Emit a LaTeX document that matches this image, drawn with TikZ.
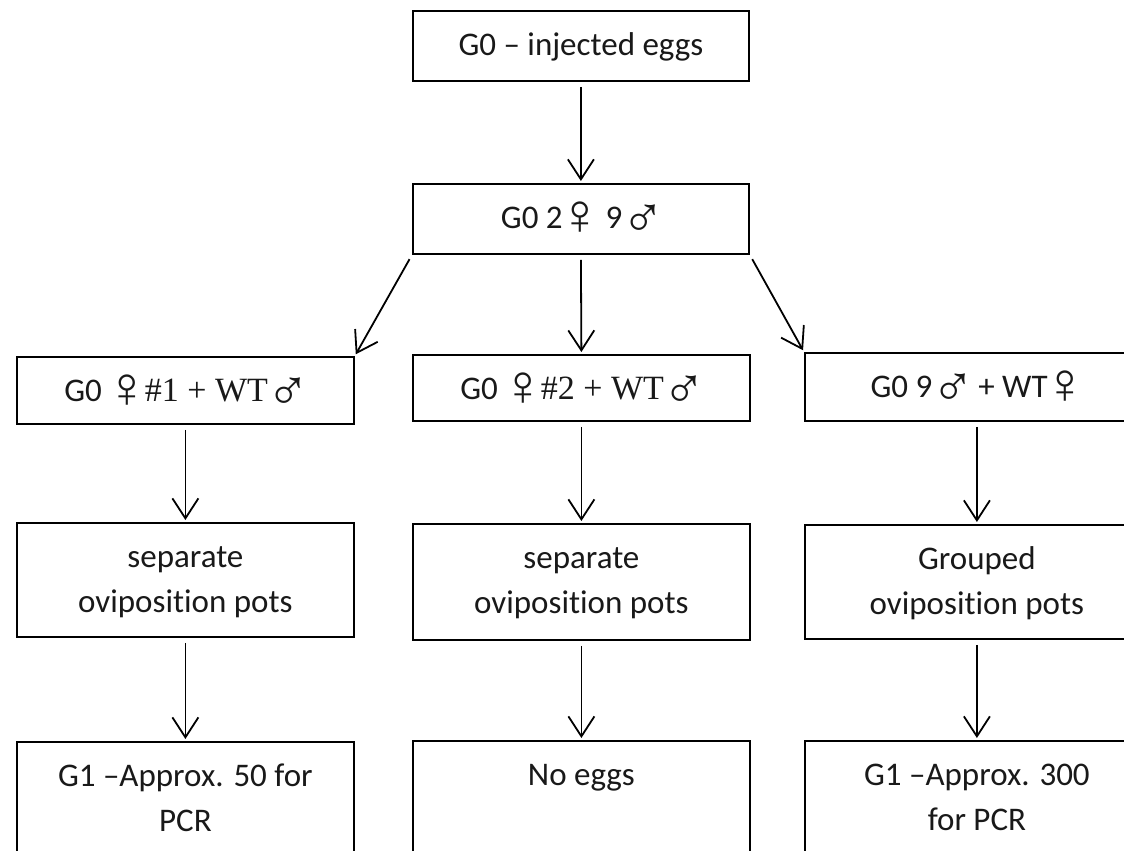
\documentclass[tikz,border=0pt]{standalone}
\usepackage{fontspec}
\setmainfont{Carlito}[Ligatures=NoCommon]
\newfontfamily\symfont{Liberation Sans}
\newfontfamily\rmpart{Liberation Serif}
\usetikzlibrary{arrows.meta}
% female / male signs
\newcommand\fem{\kern-4pt\raisebox{-6pt}{\symfont\fontsize{58}{44}\selectfont ♀}\kern-4pt}
\newcommand\mal{\kern-1pt\raisebox{-9pt}{\symfont\fontsize{58}{44}\selectfont ♂}\kern-4pt}
% serif run inside the cross labels
\newcommand\rmrun[1]{{\rmpart\fontsize{34}{44}\selectfont #1}}
% top-aligned text inside a box of fixed width and height
\newcommand\boxtext[3]{\parbox[t][#2][t]{#1}{\centering\rule{0pt}{45pt}#3}}
\begin{document}
\begin{tikzpicture}[x=1pt,y=-1pt,
  flowbox/.style={draw=black, line width=1.8pt, inner sep=0pt, anchor=north west,
    font=\fontsize{33}{45}\selectfont, text=black!90},
  flowarrow/.style={draw=black, line width=1.8pt,
    -{Straight Barb[length=20pt,width=26pt]}, shorten <=5pt, shorten >=2pt}]
\useasboundingbox (0,0) rectangle (1124,851);
\clip (0,0) rectangle (1124,851);
\fill[white] (0,0) rectangle (1124,851);

% top of the chain
\node[flowbox] (inj) at (412,10) {\boxtext{336pt}{70pt}{G0 – injected eggs}};
\node[flowbox] (adults) at (412,183) {\boxtext{336pt}{70pt}{G0 2\fem{} 9\mal}};

% crosses
\node[flowbox] (crossA) at (16,356) {\boxtext{337pt}{67pt}{G0 \fem\rmrun{\#1 + WT}\mal}};
\node[flowbox] (crossB) at (412,354) {\boxtext{337pt}{66pt}{G0 \fem\rmrun{\#2 + WT}\mal}};
\node[flowbox] (crossC) at (804,352) {\boxtext{344pt}{68pt}{G0 9\mal{} + WT\fem}};

% oviposition
\node[flowbox] (potsA) at (16,522) {\boxtext{337pt}{114pt}{separate\\oviposition pots}};
\node[flowbox] (potsB) at (412,523) {\boxtext{337pt}{116pt}{separate\\oviposition pots}};
\node[flowbox] (potsC) at (804,524) {\boxtext{344pt}{114pt}{Grouped\\oviposition pots}};

% G1 outcome
\node[flowbox] (outA) at (16,741) {\boxtext{337pt}{140pt}{G1 –Approx. 50 for\\PCR}};
\node[flowbox] (outB) at (412,740) {\boxtext{337pt}{140pt}{No eggs}};
\node[flowbox] (outC) at (804,740) {\boxtext{344pt}{140pt}{G1 –Approx. 300\\for PCR}};

% connectors
\draw[flowarrow] (inj.south) -- (adults.north);
\draw[flowarrow] (adults.south west) -- (crossA.north east);
\draw[flowarrow] (adults.south) -- (crossB.north);
\draw[flowarrow] (adults.south east) -- (crossC.north west);
\foreach \c in {A,B,C}{
  \draw[flowarrow] (cross\c.south) -- (pots\c.north);
  \draw[flowarrow] (pots\c.south) -- (out\c.north);
}
\end{tikzpicture}
\end{document}
